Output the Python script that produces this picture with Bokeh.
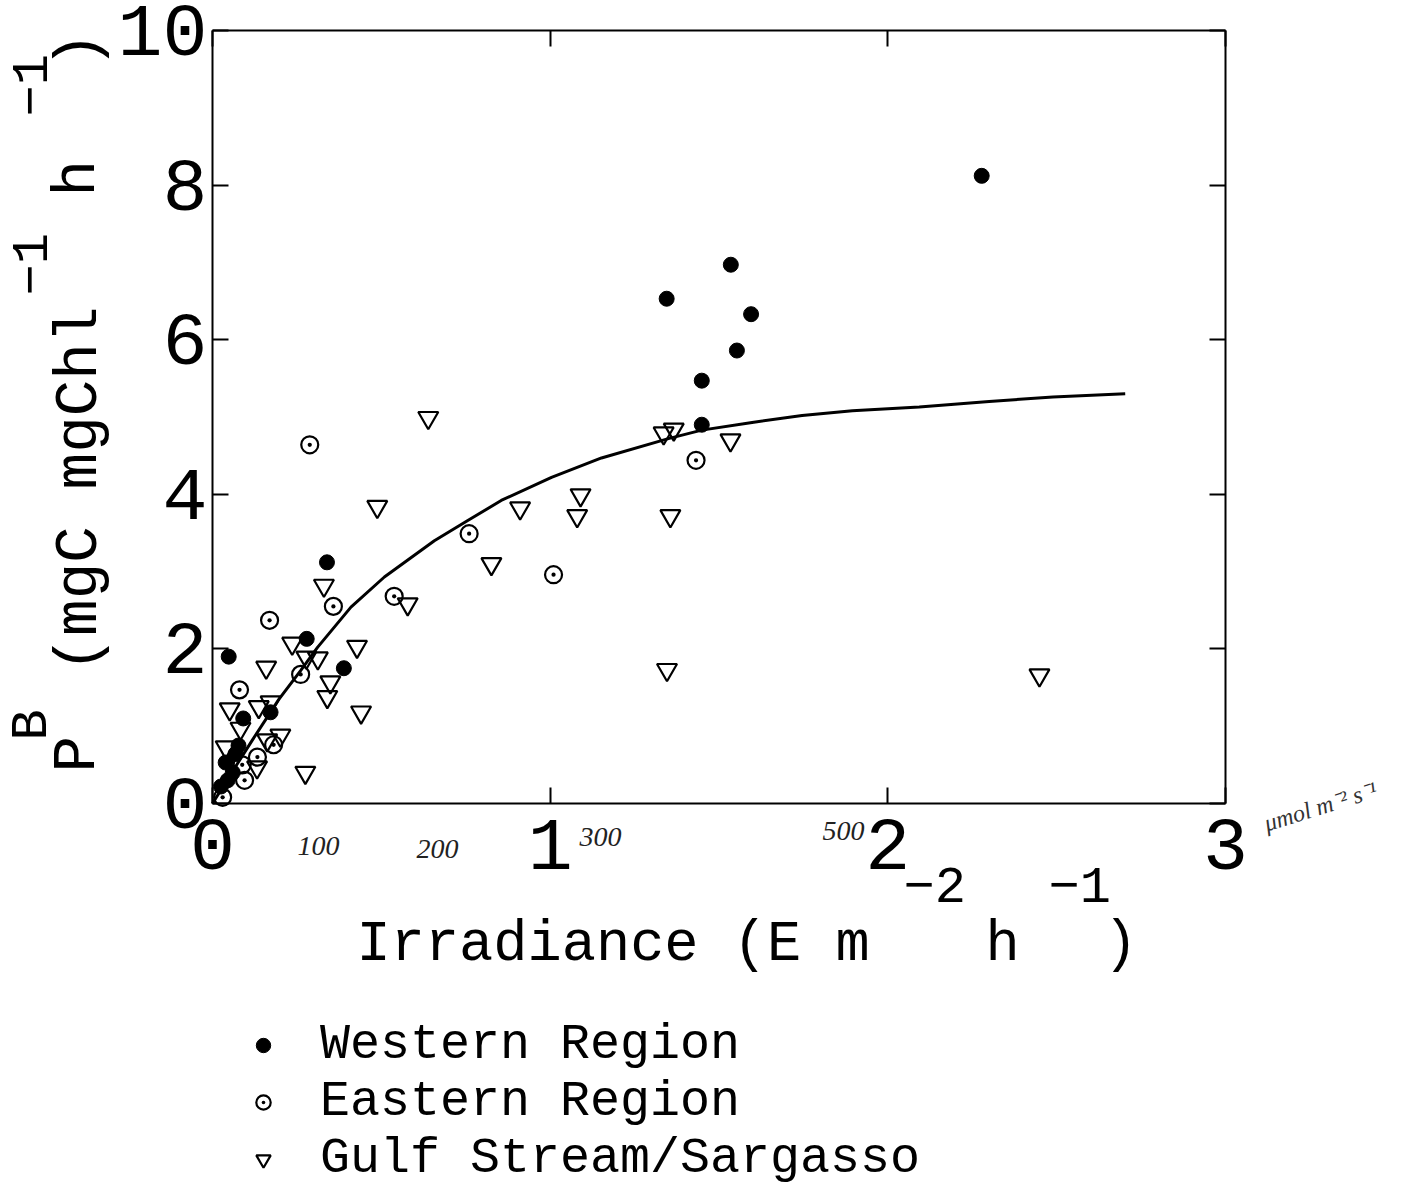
import math
from bokeh.plotting import figure
from bokeh.models import (Range1d, LinearAxis, FixedTicker, Label, Legend,
                          LegendItem, CustomJSTickFormatter)
from bokeh.embed import file_html
from bokeh.resources import INLINE

# ---------------- data ----------------
western_x = [2.278, 1.535, 1.345, 1.595, 1.553, 1.449, 1.449, 0.339, 0.279, 0.389,
             0.048, 0.172, 0.091, 0.077, 0.039, 0.045, 0.025, 0.068, 0.060]
western_y = [8.12, 6.97, 6.53, 6.33, 5.86, 5.47, 4.90, 3.12, 2.13, 1.75,
             1.90, 1.18, 1.10, 0.75, 0.53, 0.30, 0.22, 0.64, 0.40]

eastern_x = [0.288, 1.432, 0.760, 1.010, 0.538, 0.358, 0.169, 0.261, 0.080, 0.181,
             0.133, 0.088, 0.030, 0.095]
eastern_y = [4.64, 4.44, 3.49, 2.96, 2.68, 2.55, 2.37, 1.67, 1.47, 0.76,
             0.60, 0.50, 0.08, 0.30]

gulf_x = [0.639, 0.488, 0.911, 1.090, 1.080, 0.826, 1.356, 1.336, 1.366, 1.534,
          1.346, 2.449, 0.578, 0.330, 0.428, 0.236, 0.278, 0.312, 0.159, 0.349,
          0.340, 0.440, 0.051, 0.137, 0.172, 0.083, 0.201, 0.162, 0.039, 0.132, 0.275]
gulf_y = [4.99, 3.84, 3.82, 3.99, 3.72, 3.10, 3.72, 4.79, 4.84, 4.70,
          1.73, 1.66, 2.58, 2.82, 2.03, 2.07, 1.89, 1.88, 1.76, 1.57,
          1.38, 1.18, 1.22, 1.25, 1.31, 0.97, 0.88, 0.82, 0.73, 0.47, 0.40]

curve_x = [0.0, 0.060, 0.118, 0.197, 0.261, 0.311, 0.410, 0.509, 0.657, 0.756, 0.855,
           1.004, 1.152, 1.350, 1.449, 1.598, 1.746, 1.895, 2.093, 2.300, 2.489, 2.703]
curve_y = [0.0, 0.42, 0.82, 1.35, 1.72, 2.02, 2.54, 2.93, 3.40, 3.66, 3.92,
           4.22, 4.47, 4.72, 4.83, 4.93, 5.02, 5.08, 5.13, 5.20, 5.26, 5.30]

x_ticks = [0, 1, 2, 3]
y_ticks = [0, 2, 4, 6, 8, 10]
x_lim = (0, 3)
y_lim = (0, 10)
series_names = ["Western Region", "Eastern Region", "Gulf Stream/Sargasso"]

# ---------------- canvas geometry ----------------
FONT = "Liberation Mono"
W, H = 1410, 1187
BOX_L, BOX_R, BOX_T, BOX_B = 212, 1225, 30, 803       # pixel position of the data box
SX = (BOX_R - BOX_L) / (x_lim[1] - x_lim[0])
SY = (BOX_B - BOX_T) / (y_lim[1] - y_lim[0])

def dx(px):
    return x_lim[0] + (px - BOX_L) / SX

def dy(py):
    return y_lim[0] + (BOX_B - py) / SY

p = figure(width=W, height=H, output_backend="svg", toolbar_location=None,
           x_range=Range1d(dx(0), dx(W)), y_range=Range1d(dy(H), dy(0)),
           x_axis_location=None, y_axis_location=None,
           min_border=0, min_border_left=0, min_border_right=0,
           min_border_top=0, min_border_bottom=0)
p.grid.visible = False
p.outline_line_color = None
p.background_fill_color = "white"
p.border_fill_color = "white"

def make_axis(fixed, bounds, ticks, labels, standoff=0):
    ax = LinearAxis(fixed_location=fixed, bounds=bounds, ticker=FixedTicker(ticks=ticks))
    ax.major_tick_in = 16
    ax.major_tick_out = 0
    ax.minor_tick_line_color = None
    ax.axis_line_color = "black"
    ax.axis_line_width = 2
    ax.major_tick_line_width = 2
    ax.major_tick_line_color = "black"
    if labels:
        ax.major_label_text_font = FONT
        ax.major_label_text_font_size = "75px"
        ax.major_label_text_color = "black"
        ax.major_label_standoff = standoff
    else:
        ax.formatter = CustomJSTickFormatter(code="return ''")
        ax.major_label_text_font_size = "1px"
    return ax

p.add_layout(make_axis(y_lim[0], x_lim, x_ticks, True, 16), "below")
p.add_layout(make_axis(x_lim[0], y_lim, y_ticks, True, 5), "left")
p.add_layout(make_axis(y_lim[1], x_lim, x_ticks, False), "above")
p.add_layout(make_axis(x_lim[1], y_lim, y_ticks, False), "right")

# ---------------- glyphs ----------------
p.line(curve_x, curve_y, line_color="black", line_width=3)

r_g = p.scatter(gulf_x, gulf_y, marker="inverted_triangle", size=20,
                fill_color="white", fill_alpha=0.0, line_color="black", line_width=2.2)
r_e = p.scatter(eastern_x, eastern_y, marker="circle_dot", size=17,
                fill_color="white", fill_alpha=0.0, line_color="black", line_width=2.2)
r_w = p.scatter(western_x, western_y, marker="circle", size=15,
                fill_color="black", line_color="black", line_width=1)

# ---------------- legend ----------------
ROW_H = 57
legend = Legend(items=[LegendItem(label=series_names[0], renderers=[r_w]),
                       LegendItem(label=series_names[1], renderers=[r_e]),
                       LegendItem(label=series_names[2], renderers=[r_g])],
                location=(245, H - 1187), orientation="vertical",
                label_text_font=FONT, label_text_font_size="50px",
                label_text_color="black", label_standoff=39,
                glyph_width=36, glyph_height=36, label_height=ROW_H,
                spacing=0, padding=0, margin=0,
                border_line_color=None, background_fill_alpha=0.0)
p.add_layout(legend, "center")

# ---------------- axis titles (with superscripts) ----------------
def lab(txt, px, py, size, angle=0.0, align="left", baseline="alphabetic",
        font=FONT, style="normal", color="black"):
    p.add_layout(Label(x=dx(px), y=dy(py), text=txt, angle=angle,
                       text_font=font, text_font_size=f"{size}px",
                       text_font_style=style, text_color=color,
                       text_align=align, text_baseline=baseline))

# x title: Irradiance (E m^-2 h^-1)
lab("Irradiance (E m", 356, 944, 57)
lab("\u22122", 903, 884, 52)
lab("h", 985, 944, 57)
lab("\u22121", 1048, 884, 52)
lab(")", 1103, 944, 57)

# y title: P^B (mgC mgChl^-1 h^-1)
R = math.pi / 2
lab("P", 77, 772, 61, angle=R)
lab("B", 32, 740, 52, angle=R)
lab("(mgC mgChl", 79, 672, 61, angle=R)
lab("\u22121", 29, 295, 52, angle=R)
lab("h", 77, 196, 61, angle=R)
lab("\u22121", 29, 116, 52, angle=R)
lab(")", 79, 68, 61, angle=R)

# handwritten notes on the scan
for t, px, py in [("100", 318, 845), ("200", 437, 848), ("300", 600, 836), ("500", 843, 830)]:
    lab(t, px, py, 28, align="center", baseline="middle",
        font="Liberation Serif", style="italic", color="#222222")
lab("\u03bcmol m\u207b\u00b2 s\u207b\u00b9", 1320, 806, 24, angle=0.3, align="center",
    baseline="middle", font="Liberation Serif", style="italic", color="#333333")

open("out.html", "w").write(file_html(p, INLINE))
